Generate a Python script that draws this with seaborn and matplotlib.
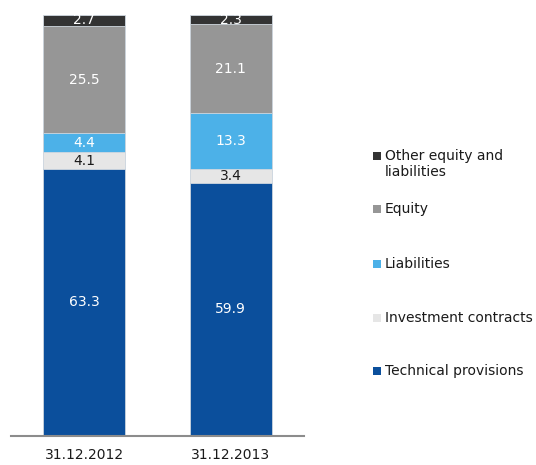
import numpy as np
import pandas as pd
import seaborn as sns
import matplotlib.pyplot as plt
from matplotlib.patches import Rectangle

# Data (percent of balance sheet)
dates = ["31.12.2012", "31.12.2013"]
categories = ["Technical provisions", "Investment contracts", "Liabilities",
              "Equity", "Other equity and liabilities"]
technical = [63.3, 59.9]
investment = [4.1, 3.4]
liabilities = [4.4, 13.3]
equity = [25.5, 21.1]
other = [2.7, 2.3]

colors = ["#0b4f9c", "#e6e6e6", "#4cb1e8", "#969696", "#333333"]
text_colors = ["white", "#1a1a1a", "white", "white", "white"]

series = [technical, investment, liabilities, equity, other]
values = np.array(series)
tops = values.cumsum(axis=0)

sns.set_style("white")
plt.rcParams["font.family"] = ["DejaVu Sans"]

fig = plt.figure(figsize=(5.36, 4.65), dpi=100)
ax = fig.add_axes([11 / 536, 29.5 / 465, 293 / 536, 420.8 / 465])

# stacked bars: draw cumulative totals from the top layer down
for i in reversed(range(len(categories))):
    df = pd.DataFrame({"date": dates, "top": tops[i]})
    sns.barplot(data=df, x="date", y="top", color=colors[i], width=0.56,
                edgecolor="#d0d8e0", linewidth=0.6, saturation=1, ax=ax)

for i in range(len(categories)):
    for j in range(len(dates)):
        ax.text(j, tops[i][j] - values[i][j] / 2, f"{values[i][j]:.1f}",
                ha="center", va="center", fontsize=10, color=text_colors[i])

ax.set_xlim(-0.5, 1.5)
ax.set_ylim(0, 100)
ax.set_xlabel("")
ax.set_ylabel("")
ax.set_yticks([])
ax.tick_params(axis="x", length=0, labelsize=10, pad=9, colors="#1a1a1a")
for s in ["left", "right", "top"]:
    ax.spines[s].set_visible(False)
ax.spines["bottom"].set_color("#8c8c8c")
ax.spines["bottom"].set_linewidth(1.5)

# legend drawn by hand to match the spacing of the original
legend_rows = [
    (4, "Other equity and\nliabilities", 156),
    (3, "Equity", 209),
    (2, "Liabilities", 264),
    (1, "Investment contracts", 318),
    (0, "Technical provisions", 371),
]
for idx, label, ypix in legend_rows:
    fig.patches.append(Rectangle((373 / 536, 1 - (ypix + 4) / 465), 8 / 536, 8 / 465,
                                 transform=fig.transFigure, facecolor=colors[idx],
                                 edgecolor="none"))
    fig.text(385 / 536, 1 - (ypix - 7) / 465, label, ha="left", va="top",
             fontsize=10, color="#1a1a1a", linespacing=1.15)

fig.savefig("out.png", dpi=100)
